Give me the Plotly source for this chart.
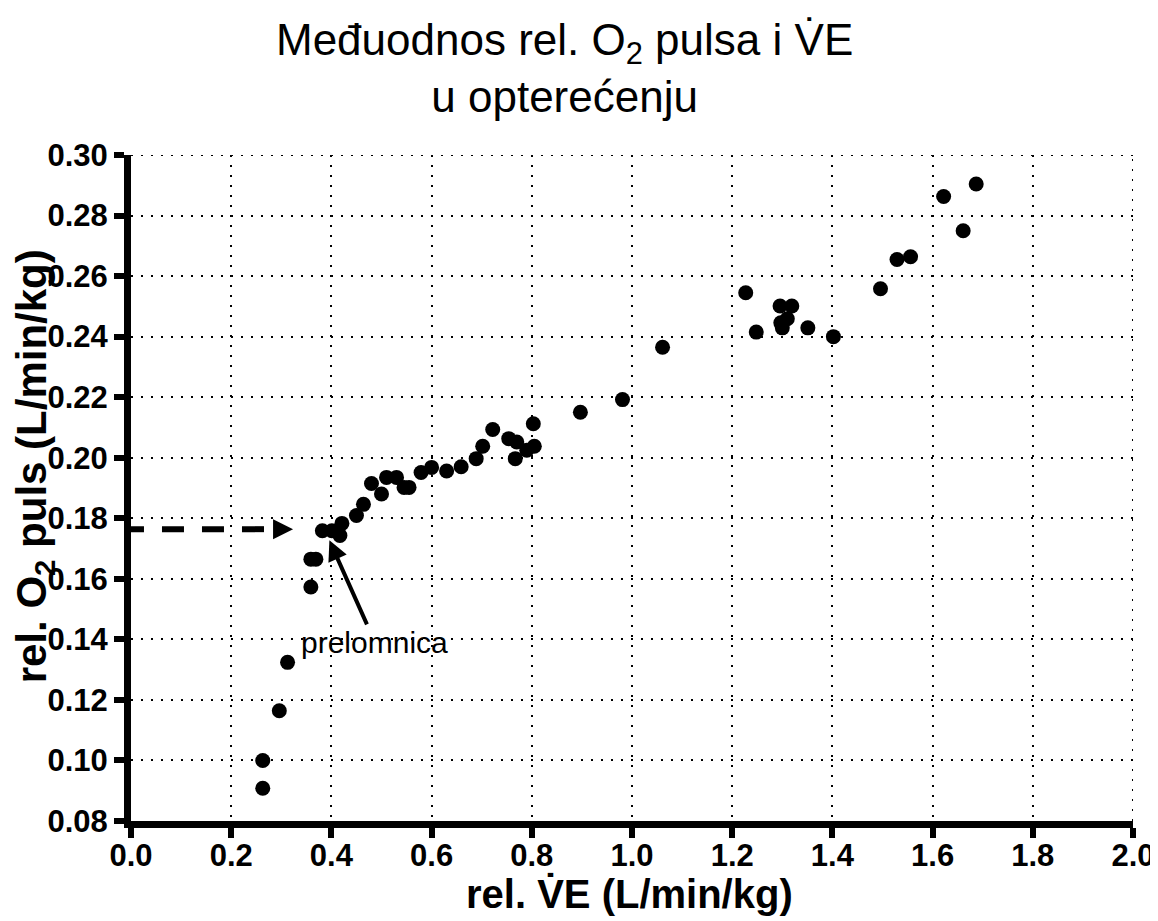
import plotly.graph_objects as go

# rel. VE (L/min/kg) and rel. O2 pulse (L/min/kg)
rel_ve = [0.263, 0.263, 0.296, 0.3125, 0.359, 0.359, 0.369, 0.382, 0.401, 0.417,
          0.421, 0.450, 0.464, 0.480, 0.500, 0.510, 0.530, 0.545, 0.555, 0.579,
          0.600, 0.630, 0.659, 0.689, 0.702, 0.722, 0.754, 0.770, 0.767, 0.790,
          0.805, 0.803, 0.897, 0.981, 1.061, 1.227, 1.248, 1.2955, 1.319, 1.310,
          1.297, 1.300, 1.351, 1.402, 1.496, 1.529, 1.556, 1.622, 1.661, 1.687]
rel_o2 = [0.0908, 0.100, 0.1164, 0.1324, 0.1573, 0.1665, 0.1665, 0.1759, 0.1759, 0.1743,
          0.1783, 0.1809, 0.1846, 0.1915, 0.188, 0.1935, 0.1935, 0.1902, 0.1902, 0.1951,
          0.1968, 0.1956, 0.197, 0.1997, 0.2038, 0.2093, 0.2063, 0.2052, 0.1997, 0.2025,
          0.2038, 0.2112, 0.215, 0.2192, 0.2365, 0.2545, 0.2415, 0.2501, 0.2501, 0.2459,
          0.2446, 0.2429, 0.2429, 0.240, 0.2558, 0.2655, 0.2664, 0.2863, 0.275, 0.2904]

# breakpoint ("prelomnica")
break_ve = 0.396
break_o2 = 0.1727
dashed_o2 = 0.1764
dashed_tip = 0.3235
label_ve = 0.487
label_o2 = 0.139

x_range = [0, 2.0]
y_range = [0.08, 0.30]

FONT = "Liberation Sans"
grid_dash = "2px,8px"

fig = go.Figure()

# dashed arrow from the y axis
fig.add_trace(go.Scatter(x=[-0.018, dashed_tip - 0.04], y=[dashed_o2, dashed_o2], mode="lines",
                         line=dict(color="black", width=6, dash="22px,18px"),
                         cliponaxis=False, showlegend=False, hoverinfo="skip"))
fig.add_trace(go.Scatter(x=[dashed_tip], y=[dashed_o2], mode="markers",
                         marker=dict(symbol="arrow-right", size=20, color="black"),
                         showlegend=False, hoverinfo="skip"))

fig.add_trace(go.Scatter(x=rel_ve, y=rel_o2, mode="markers",
                         marker=dict(size=15, color="black"),
                         showlegend=False))

# grid lines on the top and right edges
fig.add_shape(type="line", xref="x", yref="y", x0=x_range[0], x1=x_range[1], y0=y_range[1], y1=y_range[1],
              line=dict(color="black", width=2, dash=grid_dash), layer="below")
fig.add_shape(type="line", xref="x", yref="y", x0=x_range[1], x1=x_range[1], y0=y_range[0], y1=y_range[1],
              line=dict(color="black", width=2, dash=grid_dash), layer="below")

fig.add_annotation(x=break_ve, y=break_o2, ax=label_ve, ay=label_o2,
                   axref="x", ayref="y", xref="x", yref="y",
                   text="prelomnica", showarrow=True,
                   arrowhead=2, arrowsize=1, arrowwidth=4, arrowcolor="black",
                   font=dict(family=FONT, size=30, color="black"))

# title
fig.add_annotation(xref="paper", yref="paper", x=0.433, y=1.213, xanchor="center", yanchor="top",
                   text="Međuodnos rel. O<sub>2</sub> pulsa i V\u0307E<br>u opterećenju",
                   showarrow=False, font=dict(family=FONT, size=44, color="black"))

# axis titles
fig.add_annotation(xref="paper", yref="paper", x=-0.0965, y=0.533, xanchor="center", yanchor="middle",
                   text="<b>rel. O<sub>2</sub> puls (L/min/kg)</b>", textangle=-90,
                   showarrow=False, font=dict(family=FONT, size=42, color="black"))
fig.add_annotation(xref="paper", yref="paper", x=0.498, y=-0.11, xanchor="center", yanchor="middle",
                   text="<b>rel. V\u0307E (L/min/kg)</b>",
                   showarrow=False, font=dict(family=FONT, size=40, color="black"))

axis_style = dict(showline=True, linewidth=7, linecolor="black",
                  ticks="outside", ticklen=10, tickwidth=6, tickcolor="black",
                  showgrid=True, gridcolor="black", gridwidth=2, griddash=grid_dash,
                  zeroline=False, automargin=False,
                  tickfont=dict(family=FONT, size=31, color="black", weight="bold"))

# the page body has an 8px margin, so the plot box is placed 8px up/left
fig.update_layout(
    width=1158, height=921,
    margin=dict(l=123, r=33, t=147, b=108, autoexpand=False),
    paper_bgcolor="white", plot_bgcolor="white",
    xaxis=dict(range=x_range, dtick=0.2, tick0=0, tickformat=".1f",
               ticklabelstandoff=-9, **axis_style),
    yaxis=dict(range=y_range, dtick=0.02, tick0=0.08, tickformat=".2f", **axis_style),
)

fig.write_html("out.html")
